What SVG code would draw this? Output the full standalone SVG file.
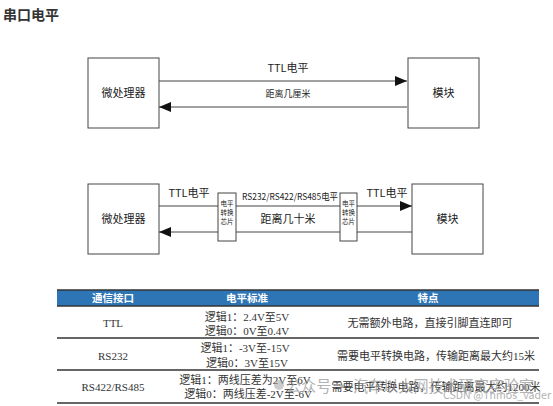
<svg xmlns="http://www.w3.org/2000/svg" width="553" height="406" viewBox="0 0 553 406">
<style>
.box{fill:#fff;stroke:#444;stroke-width:1}
.ln{stroke:#444;stroke-width:1;fill:none}
.t{font-family:"Noto Sans CJK SC","Liberation Sans",sans-serif;font-size:11px;fill:#222;text-anchor:middle}
.s{font-size:9px}
.c{font-family:"Noto Sans CJK SC",sans-serif;font-size:6.5px;fill:#222;text-anchor:middle}
.tb{font-family:"Liberation Serif","Noto Sans CJK SC",serif;font-size:11px;fill:#333;text-anchor:middle}
.th{font-family:"Noto Sans CJK SC",sans-serif;font-size:10.5px;font-weight:bold;fill:#fff;text-anchor:middle}
.rl{stroke:#333;stroke-width:1.6}
.wm{font-family:"Noto Sans CJK SC",sans-serif;fill:#999;opacity:0.75}
</style>
<defs>
<marker id="ah" viewBox="0 0 12 10" refX="12" refY="5" markerWidth="12" markerHeight="10" markerUnits="userSpaceOnUse" orient="auto"><path d="M0,0 L12,5 L0,10 Z" fill="#111"/></marker>
</defs>
<rect width="553" height="406" fill="#fff"/>
<text x="3" y="20" font-family="Noto Sans CJK SC,sans-serif" font-size="14" font-weight="bold" fill="#333">串口电平</text>

<g id="connectors">
<line class="ln" x1="159" y1="81" x2="407" y2="81" marker-end="url(#ah)"/>
<line class="ln" x1="407" y1="107" x2="159" y2="107" marker-end="url(#ah)"/>
<line class="ln" x1="159" y1="206" x2="218" y2="206"/>
<line class="ln" x1="236" y1="206" x2="340" y2="206"/>
<line class="ln" x1="357" y1="206" x2="412" y2="206" marker-end="url(#ah)"/>
<line class="ln" x1="412" y1="232" x2="357" y2="232"/>
<line class="ln" x1="340" y1="232" x2="236" y2="232"/>
<line class="ln" x1="218" y1="232" x2="159" y2="232" marker-end="url(#ah)"/>
<text class="t" x="288" y="72">TTL电平</text>
<text class="t s" x="288" y="97">距离几厘米</text>
<text class="t" x="189" y="197">TTL电平</text>
<text class="t s" x="290" y="200" font-size="8.5" textLength="96" lengthAdjust="spacingAndGlyphs">RS232/RS422/RS485电平</text>
<text class="t" x="387" y="197">TTL电平</text>
<text class="t" x="288" y="223">距离几十米</text>
</g>

<g id="mcu1"><rect class="box" x="88" y="58" width="71" height="70"/><text class="t" x="123.5" y="97">微处理器</text></g>
<g id="mod1"><rect class="box" x="408" y="58" width="71" height="70"/><text class="t" x="443.5" y="97">模块</text></g>
<g id="mcu2"><rect class="box" x="88" y="184" width="71" height="70"/><text class="t" x="123.5" y="223">微处理器</text></g>
<g id="mod2"><rect class="box" x="412" y="184" width="71" height="70"/><text class="t" x="447.5" y="223">模块</text></g>
<g id="chip1"><rect class="box" x="218" y="193" width="18" height="48"/>
<text class="c" x="227" y="206">电平</text><text class="c" x="227" y="215">转换</text><text class="c" x="227" y="224">芯片</text></g>
<g id="chip2"><rect class="box" x="340" y="193" width="17" height="48"/>
<text class="c" x="348.5" y="206">电平</text><text class="c" x="348.5" y="215">转换</text><text class="c" x="348.5" y="224">芯片</text></g>

<g id="table">
<rect x="57" y="290" width="482" height="16" fill="#2e75b6"/>
<line class="rl" x1="57" y1="290" x2="539" y2="290"/>
<line class="rl" x1="57" y1="306" x2="539" y2="306"/>
<line class="rl" x1="57" y1="338" x2="539" y2="338"/>
<line class="rl" x1="57" y1="370" x2="539" y2="370"/>
<line class="rl" x1="57" y1="403" x2="539" y2="403"/>
<text class="th" x="113" y="302">通信接口</text>
<text class="th" x="247" y="302">电平标准</text>
<text class="th" x="428" y="302">特点</text>
<text class="tb" x="113" y="327">TTL</text>
<text class="tb" x="247" y="321">逻辑1：2.4V至5V</text>
<text class="tb" x="247" y="335">逻辑0：0V至0.4V</text>
<text class="tb" x="430" y="327">无需额外电路，直接引脚直连即可</text>
<text class="tb" x="113" y="360">RS232</text>
<text class="tb" x="245" y="352">逻辑1：-3V至-15V</text>
<text class="tb" x="247" y="367">逻辑0：3V至15V</text>
<text class="tb" x="436" y="360">需要电平转换电路，传输距离最大约15米</text>
<text class="tb" x="113" y="391">RS422/RS485</text>
<text class="tb" x="245" y="384">逻辑1：两线压差为2V至6V</text>
<text class="tb" x="248" y="398">逻辑0：两线压差-2V至-6V</text>
<text class="tb" x="436" y="391">需要电平转换电路，传输距离最大约1200米</text>
</g>
<g id="watermark">
<circle cx="279" cy="385" r="5" fill="#aaa" opacity="0.6"/>
<text class="wm" x="286" y="392" font-size="16" textLength="248" lengthAdjust="spacingAndGlyphs">公众号 · 汽车以太网技术研究实验室</text>
<text class="wm" x="443" y="399" font-size="10.5" textLength="108" lengthAdjust="spacingAndGlyphs">CSDN @Thmos_vader</text>
</g>
</svg>
